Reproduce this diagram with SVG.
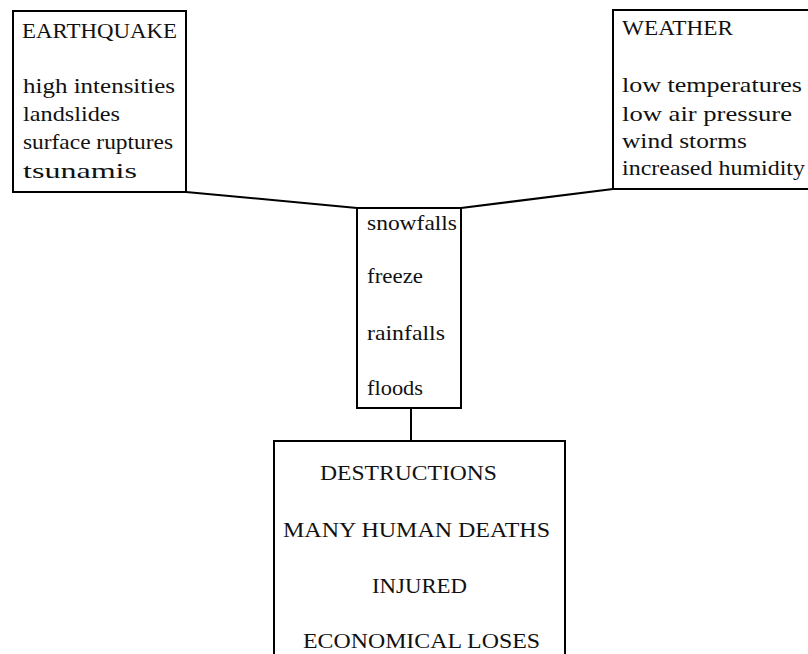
<svg xmlns="http://www.w3.org/2000/svg" width="808" height="654" viewBox="0 0 808 654">
<style>
.box{fill:#fff;stroke:#000;stroke-width:2}
.t{font-family:"Liberation Serif","DejaVu Serif",serif;font-size:22px;fill:#111}
.c{stroke:#000;stroke-width:2;fill:none}
</style>
<rect width="808" height="654" fill="#fff"/>
<g id="connectors">
<line class="c" x1="186" y1="192" x2="357" y2="208"/>
<line class="c" x1="461" y1="208" x2="613" y2="189"/>
<line class="c" x1="411" y1="408" x2="411" y2="441"/>
</g>
<g id="earthquake">
<rect class="box" x="13" y="11" width="173" height="181"/>
<text class="t" x="22" y="38" textLength="155" lengthAdjust="spacingAndGlyphs">EARTHQUAKE</text>
<text class="t" x="23" y="93" textLength="152" lengthAdjust="spacingAndGlyphs">high intensities</text>
<text class="t" x="23" y="121" textLength="97" lengthAdjust="spacingAndGlyphs">landslides</text>
<text class="t" x="23" y="149" textLength="150" lengthAdjust="spacingAndGlyphs">surface ruptures</text>
<text class="t" x="23" y="178" textLength="114" lengthAdjust="spacingAndGlyphs">tsunamis</text>
</g>
<g id="weather">
<rect class="box" x="613" y="10" width="205" height="179"/>
<text class="t" x="622" y="35" textLength="111" lengthAdjust="spacingAndGlyphs">WEATHER</text>
<text class="t" x="622" y="92" textLength="180" lengthAdjust="spacingAndGlyphs">low temperatures</text>
<text class="t" x="622" y="121" textLength="170" lengthAdjust="spacingAndGlyphs">low air pressure</text>
<text class="t" x="622" y="148" textLength="125" lengthAdjust="spacingAndGlyphs">wind storms</text>
<text class="t" x="622" y="175" textLength="183" lengthAdjust="spacingAndGlyphs">increased humidity</text>
</g>
<g id="effects">
<rect class="box" x="357" y="208" width="104" height="200"/>
<text class="t" x="367" y="230" textLength="90" lengthAdjust="spacingAndGlyphs">snowfalls</text>
<text class="t" x="367" y="283" textLength="56" lengthAdjust="spacingAndGlyphs">freeze</text>
<text class="t" x="367" y="340" textLength="78" lengthAdjust="spacingAndGlyphs">rainfalls</text>
<text class="t" x="367" y="395" textLength="56" lengthAdjust="spacingAndGlyphs">floods</text>
</g>
<g id="consequences">
<rect class="box" x="274" y="441" width="291" height="230"/>
<text class="t" x="320" y="480" textLength="177" lengthAdjust="spacingAndGlyphs">DESTRUCTIONS</text>
<text class="t" x="283" y="537" textLength="267" lengthAdjust="spacingAndGlyphs">MANY HUMAN DEATHS</text>
<text class="t" x="372" y="593" textLength="95" lengthAdjust="spacingAndGlyphs">INJURED</text>
<text class="t" x="303" y="648" textLength="237" lengthAdjust="spacingAndGlyphs">ECONOMICAL LOSES</text>
</g>
</svg>
